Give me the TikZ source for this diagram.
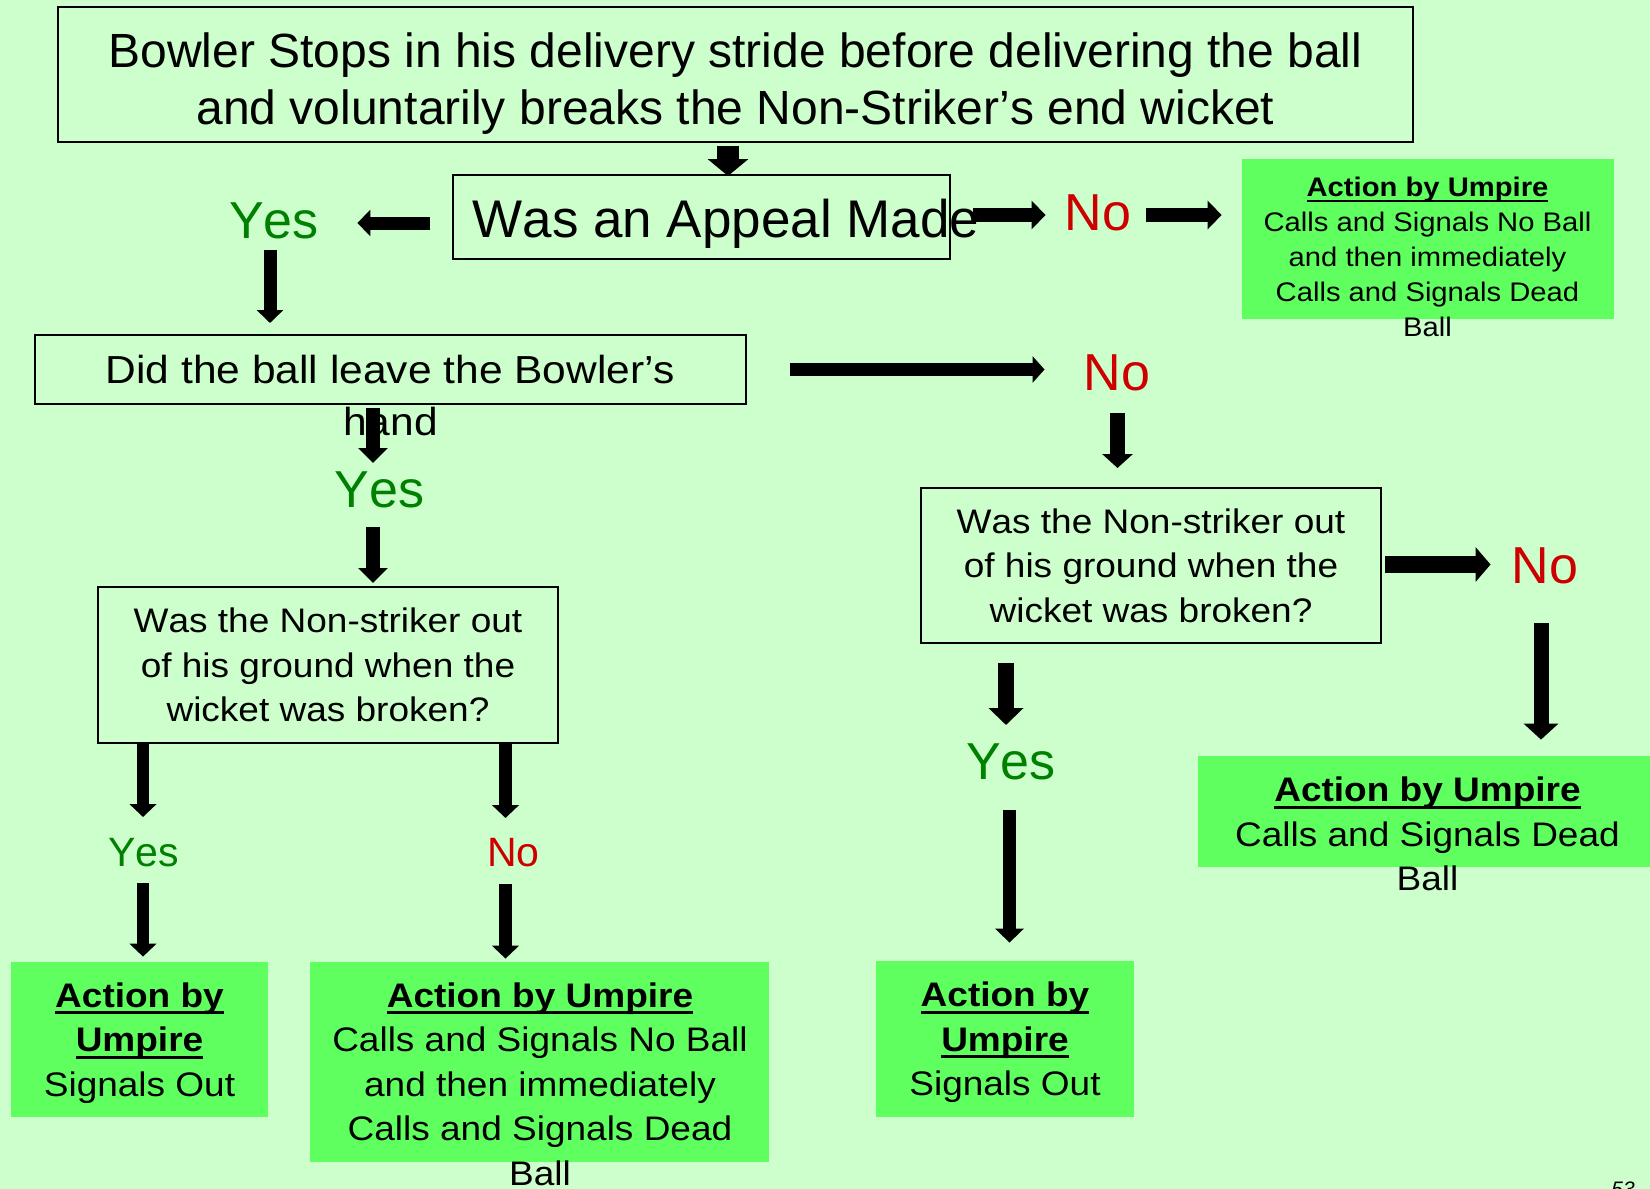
\documentclass[tikz,border=0pt]{standalone}
\usepackage{fontspec}
\setmainfont{Liberation Sans}[Kerning=Off]
\usepackage{graphicx}
\usetikzlibrary{arrows.meta,calc}
\definecolor{bgc}{HTML}{CCFFCC}
\definecolor{gboxc}{HTML}{5FFF5F}
\definecolor{yesc}{HTML}{008000}
\definecolor{noc}{HTML}{CC0000}
\newcommand\blk[2][0.92]{\scalebox{1}[#1]{\begin{tabular}[t]{@{}c@{}}#2\end{tabular}}}
\newcommand\ulb[1]{\sbox0{\bfseries #1}\rlap{\rule[-0.21em]{\wd0}{0.085em}}\usebox0}
\newcommand\fontTitle{\fontsize{24}{28.5}\selectfont}
\newcommand\fontAppeal{\fontsize{26.5}{31}\selectfont}
\newcommand\fontBig{\fontsize{26}{31}\selectfont}
\newcommand\fontSmall{\fontsize{20.5}{24}\selectfont}
\newcommand\fontDB{\fontsize{21.25}{28.26}\selectfont}
\newcommand\fontQ{\fontsize{18.5}{24.25}\selectfont}
\newcommand\fontTR{\fontsize{14.6}{19}\selectfont}
\begin{document}
\begin{tikzpicture}[x=0.5pt,y=0.5pt,
  box/.style={draw=black, line width=1pt, inner sep=0pt},
  gbox/.style={fill=gboxc, draw=none, inner sep=0pt},
  txt/.style={anchor=base, inner sep=0pt, text=black},
  yes/.style={anchor=base, inner sep=0pt, text=yesc},
  no/.style={anchor=base, inner sep=0pt, text=noc},
  ba/.style n args={3}{line width=#1pt, -{Triangle[width=#2pt,length=#3pt]}}]
\fill[bgc] (0,0) rectangle (1650,-1189);
\useasboundingbox (0,0) rectangle (1650,-1189);

% boxes
\node[box, minimum width=677.5pt, minimum height=67.5pt] (title) at (735.5,-74.5) {};
\node[box, minimum width=248.5pt, minimum height=42pt] (appeal) at (701.5,-217) {};
\node[gbox, minimum width=186pt, minimum height=80pt] (tr) at (1428,-239) {};
\node[box, minimum width=355.5pt, minimum height=34.5pt] (db) at (390.5,-369.5) {};
\node[box, minimum width=230pt, minimum height=77.5pt] (qr) at (1151,-565.5) {};
\node[box, minimum width=230pt, minimum height=78pt] (ql) at (328,-665) {};
\node[gbox, minimum width=229.5pt, minimum height=55.25pt] (grm) at (1427.5,-811.25) {};
\node[gbox, minimum width=128.5pt, minimum height=77.5pt] (gbl) at (139.5,-1039.5) {};
\node[gbox, minimum width=229.5pt, minimum height=100pt] (gbm) at (539.5,-1061.5) {};
\node[gbox, minimum width=129pt, minimum height=78pt] (gbr) at (1005,-1039) {};

% texts
\node[txt, font=\fontTitle] (titlet) at (735.5,-67) {\blk[1]{Bowler Stops in his delivery stride before delivering the ball\\and voluntarily breaks the Non-Striker’s end wicket}};
\node[txt, font=\fontAppeal] (appealt) at (726,-237) {Was an Appeal Made};
\node[txt, font=\fontTR] (trt) at (1427.5,-196.7) {\blk{\ulb{Action by Umpire}\\Calls and Signals No Ball\\and then immediately\\Calls and Signals Dead\\Ball}};
\node[txt, font=\fontDB] (dbt) at (390.5,-383) {\blk{Did the ball leave the Bowler’s\\hand}};
\node[txt, font=\fontQ] (qrt) at (1151,-533) {\blk{Was the Non-striker out\\of his ground when the\\wicket was broken?}};
\node[txt, font=\fontQ] (qlt) at (328,-632.7) {\blk{Was the Non-striker out\\of his ground when the\\wicket was broken?}};
\node[txt, font=\fontQ] (grmt) at (1427.5,-801.7) {\blk{\ulb{Action by Umpire}\\Calls and Signals Dead\\Ball}};
\node[txt, font=\fontQ] (gblt) at (139.5,-1007) {\blk{\ulb{Action by}\\\ulb{Umpire}\\Signals Out}};
\node[txt, font=\fontQ] (gbmt) at (540,-1007) {\blk{\ulb{Action by Umpire}\\Calls and Signals No Ball\\and then immediately\\Calls and Signals Dead\\Ball}};
\node[txt, font=\fontQ] (gbrt) at (1005,-1006.5) {\blk{\ulb{Action by}\\\ulb{Umpire}\\Signals Out}};

\node[yes, font=\fontBig] (yes1) at (274,-238) {Yes};
\node[no, font=\fontBig] (no1) at (1098,-230) {No};
\node[no, font=\fontBig] (no2) at (1117,-390) {No};
\node[yes, font=\fontBig] (yes2) at (379.5,-507) {Yes};
\node[no, font=\fontBig] (no3) at (1545,-583) {No};
\node[yes, font=\fontBig] (yes3) at (1011,-779) {Yes};
\node[yes, font=\fontSmall] (yes4) at (143.5,-866) {Yes};
\node[no, font=\fontSmall] (no4) at (513.5,-866) {No};

\node[anchor=north west, inner sep=0pt, font=\itshape\fontsize{10.5}{12}\selectfont] (pg) at (1611,-1181) {53};

% arrows
\draw[ba={11}{20}{8.5}] ($(title.south)+(-7.5,-3)$) -- ($(appeal.north)+(26.5,-2)$);
\draw[ba={6.5}{13}{6.5}] ($(appeal.west)+(-22,-6)$) -- ($(yes1.base east)+(38.2,15)$);
\draw[ba={6.5}{13}{6.5}] ($(yes1.base)+(-4,-12)$) -- ($(yes1.base |- db.north)+(-4,11)$);
\draw[ba={7}{14}{7}] ($(appeal.east)+(22,2)$) -- ($(no1.base west)+(-18.8,15)$);
\draw[ba={7}{14}{7}] ($(no1.base east)+(14.8,15)$) -- ($(tr.west)+(-20,24)$);
\draw[ba={6.25}{13}{6}] ($(db.east)+(43,0)$) -- ($(no2.base west)+(-38.8,20.5)$);
\draw[ba={7.5}{15}{7}] ($(no2.base)+(0.5,-23)$) -- ($(no2.base |- qr.north)+(0.5,19)$);
\draw[ba={7}{14.5}{7.5}] ($(db.south -| yes2.base)+(-6.5,-3)$) -- ($(yes2.base)+(-6.5,44)$);
\draw[ba={7}{14.5}{7.5}] ($(yes2.base)+(-6.5,-20)$) -- ($(yes2.base |- ql.north)+(-6.5,3)$);
\draw[ba={8.5}{17}{7.5}] ($(qr.east)+(3,1)$) -- ($(no3.base west)+(-20.8,18.5)$);
\draw[ba={7.5}{17}{8}] ($(no3.base)+(-4,-40)$) -- ($(no3.base |- grm.north)+(-4,16)$);
\draw[ba={8}{17}{8.5}] ($(yes3.base |- qr.south)+(-5,-19)$) -- ($(yes3.base)+(-5,54)$);
\draw[ba={6.5}{14}{7}] ($(yes3.base)+(-1.5,-31)$) -- ($(yes3.base |- gbr.north)+(-1.5,18)$);
\draw[ba={6.25}{13.25}{6.5}] ($(yes4.base |- ql.south)+(-0.5,0)$) -- ($(yes4.base)+(-0.5,49)$);
\draw[ba={6.25}{13.25}{6.5}] ($(no4.base |- ql.south)+(-8,0)$) -- ($(no4.base)+(-8,48)$);
\draw[ba={6.25}{13.25}{6.5}] ($(yes4.base)+(-0.5,-17)$) -- ($(yes4.base |- gbl.north)+(-0.5,5)$);
\draw[ba={6.25}{13.25}{6.5}] ($(no4.base)+(-8,-18)$) -- ($(no4.base |- gbm.north)+(-8,2.5)$);
\end{tikzpicture}
\end{document}
